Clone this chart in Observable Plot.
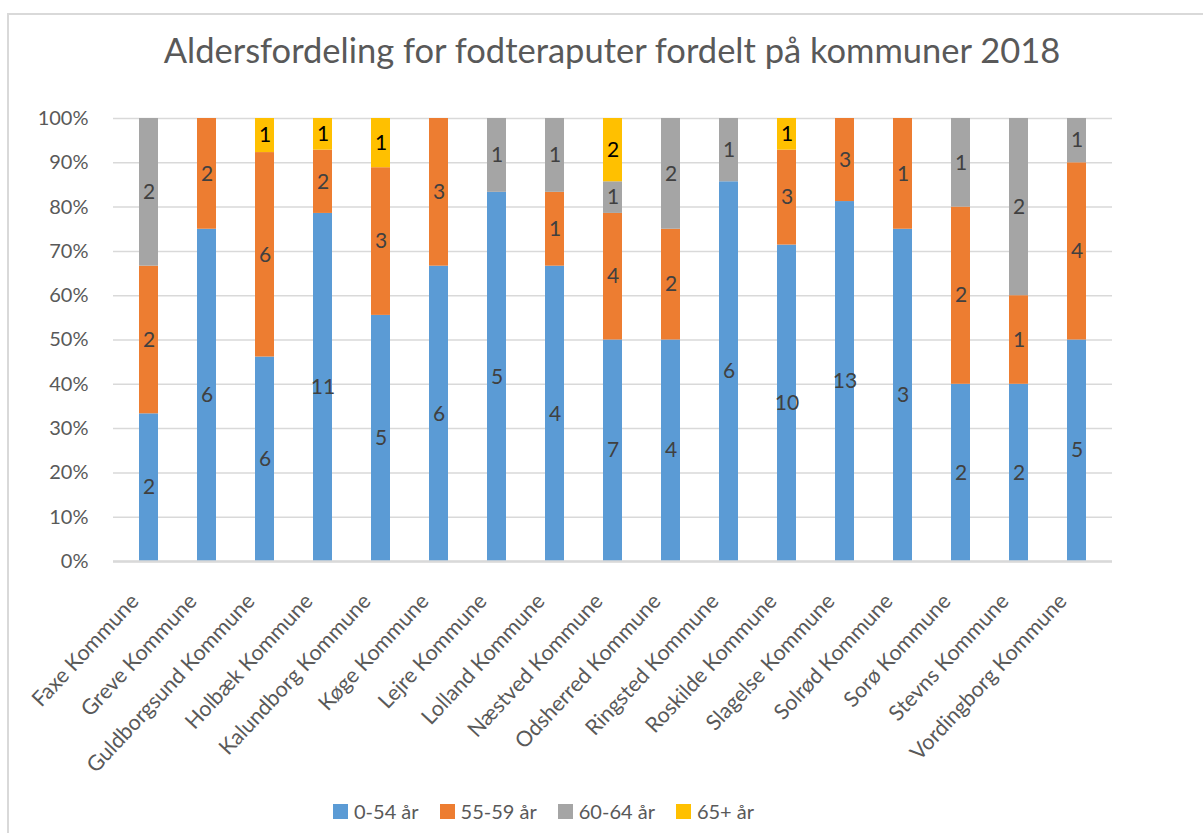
<!DOCTYPE html>
<html><head><meta charset="utf-8">
<script src="https://cdn.jsdelivr.net/npm/d3@7"></script>
<script src="https://cdn.jsdelivr.net/npm/@observablehq/plot@0.6"></script>
<style>
body{margin:0;background:#fff;font-family:Lato,"Open Sans",sans-serif;}
#page{position:relative;width:1203px;height:833px;overflow:hidden;background:#fff;}
#frame{position:absolute;left:7px;top:13px;width:1300px;height:900px;border-left:2px solid #d9d9d9;border-top:2px solid #d9d9d9;}
#title{position:absolute;top:29px;left:0;width:1224px;text-align:center;font-size:34.5px;color:#595959;white-space:nowrap;}
#chart{position:absolute;left:0;top:0;}
#legend{position:absolute;top:799px;left:333px;display:flex;align-items:center;font-size:20px;color:#595959;white-space:nowrap;}
.item{display:flex;align-items:center;margin-right:21px;}
.sw{width:15px;height:15px;margin-right:6px;}
</style></head>
<body><div id="page"><div id="frame"></div><div id="chart"></div><div id="title"></div><div id="legend"></div></div>
<script>
const titleText = "Aldersfordeling for fodteraputer fordelt på kommuner 2018";
const municipalities = ["Faxe Kommune","Greve Kommune","Guldborgsund Kommune","Holbæk Kommune","Kalundborg Kommune","Køge Kommune","Lejre Kommune","Lolland Kommune","Næstved Kommune","Odsherred Kommune","Ringsted Kommune","Roskilde Kommune","Slagelse Kommune","Solrød Kommune","Sorø Kommune","Stevns Kommune","Vordingborg Kommune"];
const ageGroups = ["0-54 år","55-59 år","60-64 år","65+ år"];
const age0_54  = [2,6,6,11,5,6,5,4,7,4,6,10,13,3,2,2,5];
const age55_59 = [2,2,6,2,3,3,0,1,4,2,0,3,3,1,2,1,4];
const age60_64 = [2,0,0,0,0,0,1,1,1,2,1,0,0,0,1,2,1];
const age65plus= [0,0,1,1,1,0,0,0,2,0,0,1,0,0,0,0,0];
const seriesColors = ["#5B9BD5","#ED7D31","#A5A5A5","#FFC000"];
const yTicks = [0,0.1,0.2,0.3,0.4,0.5,0.6,0.7,0.8,0.9,1];

const series = [age0_54, age55_59, age60_64, age65plus];
const rows = [];
municipalities.forEach((m, i) => {
  ageGroups.forEach((a, j) => rows.push({kommune: m, age: a, count: series[j][i], color: seriesColors[j]}));
});
const nonZero = rows.filter(d => d.count > 0);

document.getElementById("title").textContent = titleText;

const chart = Plot.plot({
  width: 1203,
  height: 760,
  marginLeft: 113,
  marginRight: 91,
  marginTop: 118,
  marginBottom: 199,
  style: {fontFamily: "Lato, 'Open Sans', sans-serif", fontSize: "20px", color: "#595959", background: "transparent", overflow: "visible"},
  x: {domain: municipalities, paddingInner: 0.68, paddingOuter: 0.34, label: null},
  y: {domain: [0, 1], ticks: yTicks, tickFormat: d => Math.round(d * 100) + "%", label: null, tickSize: 0, tickPadding: 25},
  color: {type: "identity"},
  marks: [
    Plot.ruleY(yTicks, {stroke: "#d9d9d9", strokeWidth: 1.5}),
    Plot.barY(nonZero, Plot.stackY({x: "kommune", y: "count", z: "age", order: ageGroups, offset: "normalize", fill: "color"})),
    Plot.ruleY([0], {stroke: "#d9d9d9", strokeWidth: 2.5}),
    Plot.text(nonZero, Plot.stackY({x: "kommune", y: "count", z: "age", order: ageGroups, offset: "normalize", text: "count",
      fill: d => d.age === "65+ år" ? "#000000" : "#404040", fontSize: 21})),
    Plot.axisX({tickRotate: -47, tickSize: 0, tickPadding: 22, dx: -14, dy: 14, fontSize: 21.5, label: null})
  ]
});
document.getElementById("chart").appendChild(chart);

const legend = document.getElementById("legend");
ageGroups.forEach((a, j) => {
  const it = document.createElement("div"); it.className = "item";
  const sw = document.createElement("div"); sw.className = "sw"; sw.style.background = seriesColors[j];
  const t = document.createElement("span"); t.textContent = a;
  it.appendChild(sw); it.appendChild(t); legend.appendChild(it);
});
</script>
</body></html>
